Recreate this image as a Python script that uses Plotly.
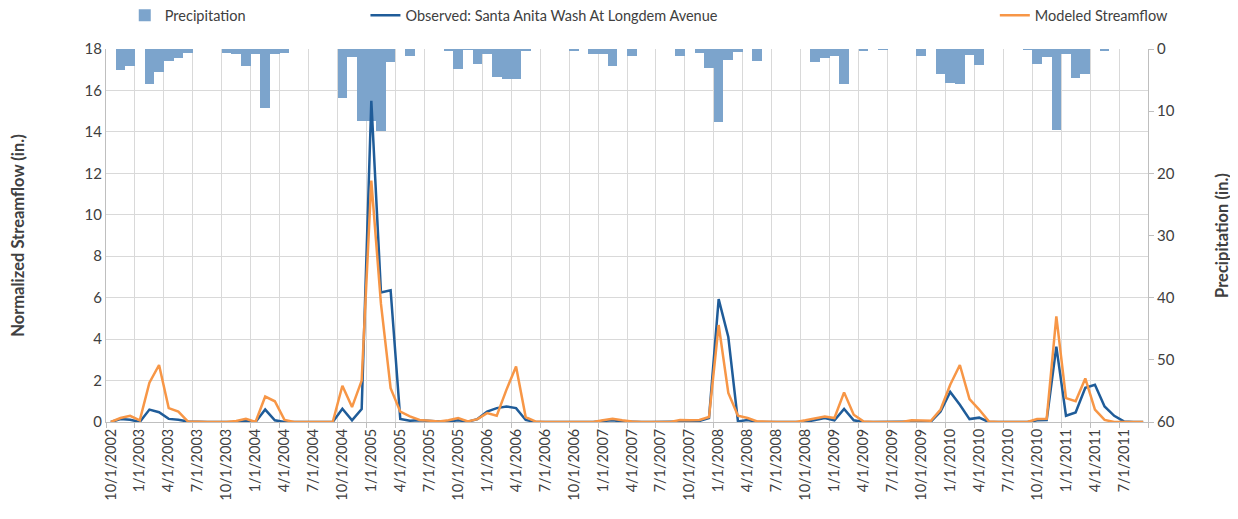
import plotly.graph_objects as go

# Monthly series, Oct 2002 .. Sep 2011 (108 months)
tick_labels = [
    "10/1/2002", "1/1/2003", "4/1/2003", "7/1/2003",
    "10/1/2003", "1/1/2004", "4/1/2004", "7/1/2004",
    "10/1/2004", "1/1/2005", "4/1/2005", "7/1/2005",
    "10/1/2005", "1/1/2006", "4/1/2006", "7/1/2006",
    "10/1/2006", "1/1/2007", "4/1/2007", "7/1/2007",
    "10/1/2007", "1/1/2008", "4/1/2008", "7/1/2008",
    "10/1/2008", "1/1/2009", "4/1/2009", "7/1/2009",
    "10/1/2009", "1/1/2010", "4/1/2010", "7/1/2010",
    "10/1/2010", "1/1/2011", "4/1/2011", "7/1/2011",
]

precipitation = [
    0, 3.45, 2.75, 0, 5.65, 3.77, 1.95, 1.47, 0.6, 0, 0, 0,
    0.67, 0.77, 2.8, 0.77, 9.45, 0.77, 0.7, 0, 0, 0, 0, 0,
    7.9, 1.3, 11.6, 11.6, 13.2, 2.1, 0, 1.1, 0, 0, 0, 0.2,
    3.2, 0.15, 2.4, 0.77, 4.5, 4.9, 4.9, 0.2, 0, 0, 0, 0,
    0.2, 0, 0.77, 0.77, 2.8, 0, 1.1, 0, 0, 0, 0, 1.2,
    0, 0.67, 3.0, 11.75, 1.75, 0.5, 0, 1.95, 0, 0, 0, 0,
    0, 2.1, 1.4, 1.2, 5.65, 0, 0.2, 0, 0.1, 0, 0, 0,
    1.15, 0, 4.1, 5.45, 5.7, 0.95, 2.65, 0, 0, 0, 0, 0.1,
    2.4, 1.3, 13.1, 0.77, 4.6, 4.1, 0, 0.4, 0, 0, 0, 0,
]

observed = [
    0, 0.14, 0.11, 0.0, 0.6, 0.47, 0.15, 0.11, 0.02, 0, 0, 0,
    0, 0, 0.05, 0, 0.6, 0.08, 0, 0, 0, 0, 0, 0,
    0.64, 0.08, 0.63, 15.5, 6.25, 6.36, 0.15, 0.06, 0.08, 0.05, 0.02, 0.03,
    0.08, 0.02, 0.14, 0.5, 0.67, 0.75, 0.67, 0.1, 0, 0, 0, 0,
    0, 0, 0, 0.05, 0.08, 0.03, 0, 0, 0, 0, 0, 0.03,
    0.03, 0.05, 0.19, 5.93, 4.1, 0.03, 0.1, 0, 0, 0, 0, 0,
    0, 0.1, 0.19, 0.08, 0.63, 0.08, 0, 0, 0, 0, 0, 0,
    0.02, 0.02, 0.5, 1.45, 0.83, 0.14, 0.21, 0, 0, 0, 0, 0,
    0.08, 0.1, 3.64, 0.3, 0.46, 1.65, 1.8, 0.75, 0.3, 0.03, 0, 0,
]

modeled = [
    0, 0.19, 0.3, 0.08, 1.9, 2.75, 0.67, 0.5, 0.02, 0, 0, 0,
    0, 0.05, 0.15, 0, 1.23, 1.0, 0.1, 0, 0, 0, 0, 0,
    1.75, 0.72, 2.0, 11.65, 5.7, 1.63, 0.5, 0.27, 0.1, 0.08, 0.03, 0.08,
    0.19, 0.03, 0.14, 0.43, 0.3, 1.55, 2.68, 0.24, 0.03, 0, 0, 0,
    0, 0, 0, 0.08, 0.16, 0.08, 0.02, 0, 0, 0, 0, 0.1,
    0.08, 0.1, 0.24, 4.68, 1.4, 0.3, 0.19, 0.03, 0, 0, 0, 0,
    0.08, 0.19, 0.27, 0.19, 1.43, 0.35, 0.03, 0, 0, 0, 0, 0.08,
    0.08, 0.06, 0.6, 1.8, 2.75, 1.1, 0.6, 0.03, 0, 0, 0, 0,
    0.14, 0.15, 5.1, 1.15, 1.0, 2.1, 0.6, 0.1, 0, 0, 0, 0,
]

month_index = list(range(len(precipitation)))
tick_positions = month_index[::3]

FONT = "Lato"
TXT = "#404040"
GRID = "#d9d9d9"
AXIS = "#bfbfbf"

fig = go.Figure()

fig.add_trace(go.Bar(
    x=month_index, y=precipitation, name="Precipitation",
    marker=dict(color="rgb(124,164,204)", line=dict(width=0)),
    width=1.0, yaxis="y", legend="legend",
))
fig.add_trace(go.Scatter(
    x=month_index, y=observed, mode="lines",
    name="Observed: Santa Anita Wash At Longdem Avenue",
    line=dict(color="#1f5c99", width=2.5), yaxis="y2", legend="legend2",
))
fig.add_trace(go.Scatter(
    x=month_index, y=modeled, mode="lines", name="Modeled Streamflow",
    line=dict(color="#f79646", width=2.5), yaxis="y2", legend="legend3",
))

legend_common = dict(
    orientation="h", yanchor="middle", xanchor="left", y=1.09,
    font=dict(family=FONT, size=14.5, color=TXT), bgcolor="rgba(0,0,0,0)",
)

fig.update_layout(
    width=1238, height=519,
    margin=dict(l=98, r=98, t=40.5, b=104.7, autoexpand=False),
    paper_bgcolor="white", plot_bgcolor="white",
    font=dict(family=FONT, size=14, color=TXT),
    bargap=0,
    showlegend=True,
    legend=dict(x=0.018, **legend_common),
    legend2=dict(x=0.249, **legend_common),
    legend3=dict(x=0.853, **legend_common),
    xaxis=dict(
        range=[-0.5, len(month_index) - 0.5],
        tickmode="array", tickvals=tick_positions, ticktext=tick_labels,
        tickangle=-90, tickfont=dict(family=FONT, size=14.5, color=TXT),
        showgrid=False, ticks="",
        minor=dict(tick0=-0.5, dtick=3, showgrid=True, gridcolor=GRID,
                   gridwidth=1, ticks="outside", ticklen=5, tickcolor=AXIS),
        showline=True, linecolor=AXIS, linewidth=1,
        zeroline=False,
    ),
    yaxis=dict(
        side="right", range=[60, 0], dtick=10,
        showgrid=False, zeroline=False,
        showline=True, linecolor=AXIS, linewidth=1,
        ticks="outside", ticklen=5, tickcolor=AXIS,
        tickfont=dict(family=FONT, size=15, color=TXT),
        title=dict(text="<b>Precipitation (in.)</b>",
                   font=dict(family=FONT, size=16.5, color=TXT), standoff=42),
    ),
    yaxis2=dict(
        side="left", overlaying="y", range=[0, 18], dtick=2,
        showgrid=True, gridcolor=GRID, gridwidth=1, zeroline=False,
        showline=True, linecolor=AXIS, linewidth=1,
        ticks="", tickfont=dict(family=FONT, size=15, color=TXT),
        title=dict(text="<b>Normalized Streamflow (in.)</b>",
                   font=dict(family=FONT, size=16.5, color=TXT), standoff=58),
    ),
)

fig.write_html("out.html")
